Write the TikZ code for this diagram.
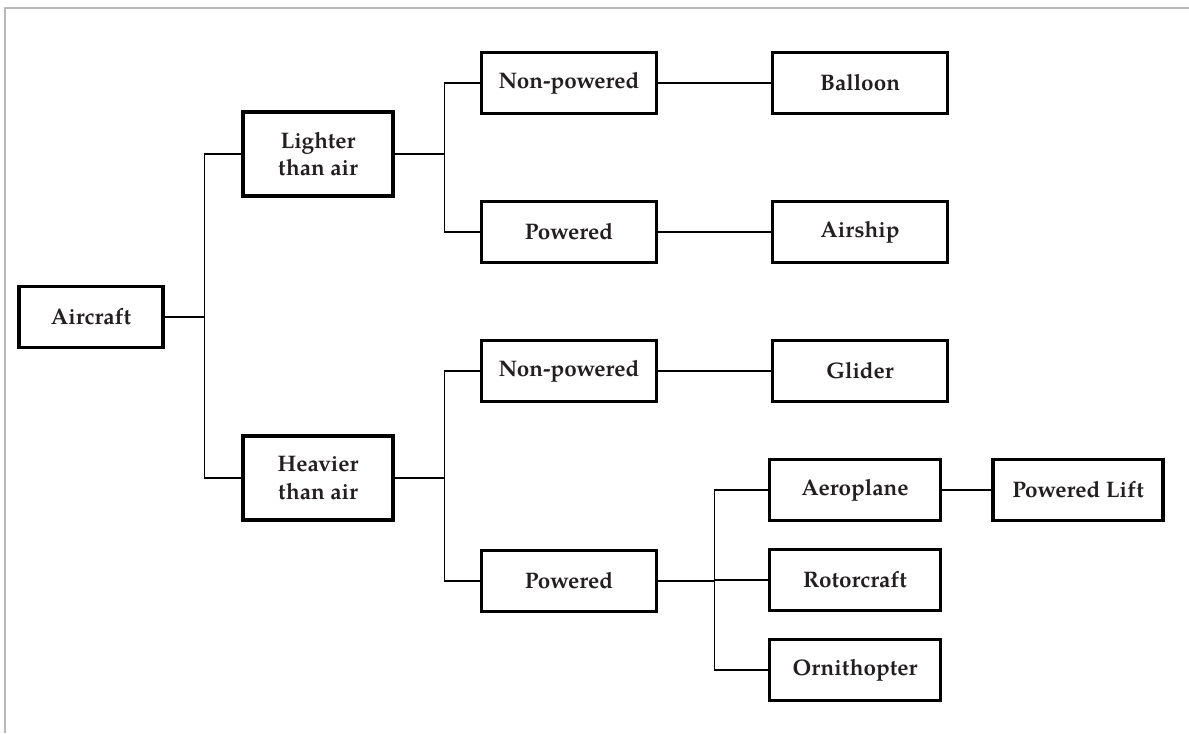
\documentclass[tikz,border=0pt]{standalone}
\usepackage{fontspec}
\setmainfont{TeX Gyre Pagella}
\definecolor{inkgray}{HTML}{231F20}
\tikzset{
  box/.style={draw=black, line width=1.9pt, fill=white, text=inkgray,
    font=\bfseries\fontsize{12.8}{15.5}\selectfont, align=center,
    minimum width=3.5cm, minimum height=1.22cm, inner sep=2pt},
  link/.style={draw=black, line width=0.7pt}
}
\begin{document}
\begin{tikzpicture}
            \def\picwidth{23.78}
            \def\picheight{14.66}
            \useasboundingbox (0,0) rectangle (\picwidth,-\picheight);
            \draw[gray!55, line width=0.8pt] (0.1,-\picheight) -- (0.1,-0.16) -- (\picwidth,-0.16);
            % first level
            \node[box, minimum width=2.88cm] (aircraft) at (1.82,-6.34) {Aircraft};
            \node[box, minimum width=3cm, minimum height=1.68cm] (lighter) at (6.36,-3.08) {Lighter\\than air};
            \node[box, minimum width=3cm, minimum height=1.68cm] (heavier) at (6.36,-9.56) {Heavier\\than air};
            % second level
            \node[box] (nonpoweredA) at (11.38,-1.66) {Non-powered};
            \node[box] (poweredA) at (11.38,-4.64) {Powered};
            \node[box] (nonpoweredB) at (11.38,-7.42) {Non-powered};
            \node[box] (poweredB) at (11.38,-11.62) {Powered};
            % third level
            \node[box] (balloon) at (17.2,-1.66) {Balloon};
            \node[box] (airship) at (17.2,-4.64) {Airship};
            \node[box] (glider) at (17.2,-7.42) {Glider};
            \node[box, minimum width=3.42cm] (aeroplane) at (17.1,-9.8) {Aeroplane};
            \node[box, minimum width=3.42cm] (rotorcraft) at (17.1,-11.6) {Rotorcraft};
            \node[box, minimum width=3.42cm] (ornithopter) at (17.1,-13.4) {Ornithopter};
            \node[box, minimum width=3.4cm] (poweredlift) at (21.56,-9.8) {Powered Lift};
            % connectors
            \draw[link] (aircraft.east) -- ++(0.8,0) |- (lighter.west);
            \draw[link] (aircraft.east) -- ++(0.8,0) |- (heavier.west);
            \draw[link] (lighter.east) -- ++(1,0) |- (nonpoweredA.west);
            \draw[link] (lighter.east) -- ++(1,0) |- (poweredA.west);
            \draw[link] (heavier.east) -- ++(1,0) |- (nonpoweredB.west);
            \draw[link] (heavier.east) -- ++(1,0) |- (poweredB.west);
            \draw[link] (nonpoweredA) -- (balloon);
            \draw[link] (poweredA) -- (airship);
            \draw[link] (nonpoweredB) -- (glider);
            \draw[link] (poweredB.east) -- ++(1.12,0) |- (aeroplane.west);
            \draw[link] (poweredB.east) -- ++(1.12,0) |- (rotorcraft.west);
            \draw[link] (poweredB.east) -- ++(1.12,0) |- (ornithopter.west);
            \draw[link] (aeroplane) -- (poweredlift);
        \end{tikzpicture}
\end{document}
